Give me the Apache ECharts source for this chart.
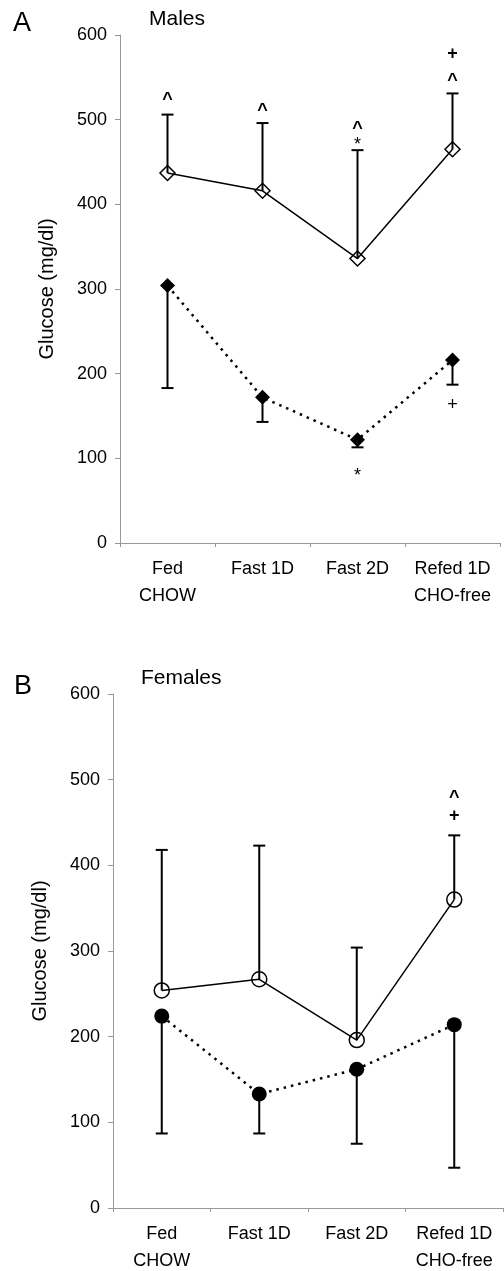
<!DOCTYPE html>
<html>
<head>
<meta charset="utf-8">
<script src="https://cdn.jsdelivr.net/npm/echarts@6/dist/echarts.min.js"></script>
<style>
  html, body { margin: 0; padding: 0; background: #fff; }
  #chart { width: 504px; height: 1271px; }
</style>
</head>
<body>
<div id="chart"></div>
<script>
const categories = ['Fed\nCHOW', 'Fast 1D', 'Fast 2D', 'Refed 1D\nCHO-free']
const yMin = 0
const yMax = 600
const yStep = 100

// Males (panel A)
const malesOpen = [437, 416, 336, 465]
const malesOpenHigh = [506, 496, 464, 531]
const malesClosed = [304, 172, 122, 216]
const malesClosedLow = [183, 143, 113, 187]
const malesMarksAbove = [[0, 528, '^'], [1, 515, '^'], [2, 494, '^'], [2, 475, '*'], [3, 578, '+'], [3, 550, '^']]
const malesMarksBelow = [[2, 84, '*'], [3, 163, '+']]

// Females (panel B)
const femalesOpen = [254, 267, 196, 360]
const femalesOpenHigh = [418, 423, 304, 435]
const femalesClosed = [224, 133, 162, 214]
const femalesClosedLow = [87, 87, 75, 47]
const femalesMarksAbove = [[3, 483, '^'], [3, 458, '+']]

const FONT = '"Liberation Sans", Arial, sans-serif'
const chart = echarts.init(document.getElementById('chart'), null, { renderer: 'canvas' })

// vertical error bar from the mean to the end value, with a cap
function errorBar(params, api) {
  const x = api.value(0)
  const p0 = api.coord([x, api.value(1)])
  const p1 = api.coord([x, api.value(2)])
  const half = 6
  const style = { stroke: '#000', lineWidth: 2 }
  return {
    type: 'group',
    children: [
      { type: 'line', shape: { x1: p0[0], y1: p0[1], x2: p1[0], y2: p1[1] }, style },
      { type: 'line', shape: { x1: p1[0] - half, y1: p1[1], x2: p1[0] + half, y2: p1[1] }, style }
    ]
  }
}

// significance marks (^, *, +)
function marks(list, bold) {
  return function (params, api) {
    const p = api.coord([api.value(0), api.value(1)])
    const t = list[params.dataIndex][2]
    const dy = t === '^' ? 4 : (t === '*' ? 4 : 0)
    return {
      type: 'text',
      x: p[0],
      y: p[1] + dy,
      style: {
        text: t,
        fontSize: 18,
        fontFamily: FONT,
        fontWeight: bold && t !== '*' ? 'bold' : 'normal',
        fill: '#000',
        align: 'center',
        verticalAlign: 'middle'
      }
    }
  }
}

const pair = (a, b) => a.map((v, i) => [i, v, b[i]])

function xAxis(gridIndex) {
  return {
    type: 'category',
    gridIndex,
    data: categories,
    boundaryGap: true,
    axisLine: { lineStyle: { color: '#999', width: 1 } },
    axisTick: { show: true, length: 4, lineStyle: { color: '#999' } },
    axisLabel: { interval: 0, margin: 13, fontSize: 18, lineHeight: 27, color: '#000', fontFamily: FONT }
  }
}

function yAxis(gridIndex) {
  return {
    type: 'value',
    gridIndex,
    min: yMin,
    max: yMax,
    interval: yStep,
    name: 'Glucose (mg/dl)',
    nameLocation: 'middle',
    nameGap: 63,
    nameTextStyle: { fontSize: 20, color: '#000', fontFamily: FONT },
    splitLine: { show: false },
    axisLine: { show: true, lineStyle: { color: '#999', width: 1 } },
    axisTick: { show: true, length: 5, lineStyle: { color: '#999' } },
    axisLabel: { margin: 13, fontSize: 18, color: '#000', fontFamily: FONT }
  }
}

function panelSeries(idx, open, openHigh, closed, closedLow, above, below, shape) {
  const list = [
    {
      type: 'custom', xAxisIndex: idx, yAxisIndex: idx, z: 1,
      renderItem: errorBar, data: pair(open, openHigh), silent: true
    },
    {
      type: 'custom', xAxisIndex: idx, yAxisIndex: idx, z: 1,
      renderItem: errorBar, data: pair(closed, closedLow), silent: true
    },
    {
      type: 'line', xAxisIndex: idx, yAxisIndex: idx, z: 3,
      data: open,
      symbol: shape, symbolSize: 15,
      lineStyle: { color: '#000', width: 1.5 },
      itemStyle: { color: 'rgba(0,0,0,0)', borderColor: '#000', borderWidth: 1.5 }
    },
    {
      type: 'line', xAxisIndex: idx, yAxisIndex: idx, z: 3,
      data: closed,
      symbol: shape, symbolSize: 15,
      lineStyle: { color: '#000', width: 2.5, type: [2.5, 5] },
      itemStyle: { color: '#000', borderWidth: 0 }
    },
    {
      type: 'custom', xAxisIndex: idx, yAxisIndex: idx, z: 4,
      renderItem: marks(above, true), data: above.map(d => [d[0], d[1]]), silent: true
    }
  ]
  if (below.length) {
    list.push({
      type: 'custom', xAxisIndex: idx, yAxisIndex: idx, z: 4,
      renderItem: marks(below, false), data: below.map(d => [d[0], d[1]]), silent: true
    })
  }
  return list
}

const option = {
  backgroundColor: '#fff',
  animation: false,
  title: [
    { text: 'A', left: 13, top: 10, padding: 0, textStyle: { fontSize: 27, fontWeight: 'normal', color: '#000', fontFamily: FONT } },
    { text: 'Males', left: 149, top: 9, padding: 0, textStyle: { fontSize: 21, fontWeight: 'normal', color: '#000', fontFamily: FONT } },
    { text: 'B', left: 14, top: 673, padding: 0, textStyle: { fontSize: 27, fontWeight: 'normal', color: '#000', fontFamily: FONT } },
    { text: 'Females', left: 141, top: 668, padding: 0, textStyle: { fontSize: 21, fontWeight: 'normal', color: '#000', fontFamily: FONT } }
  ],
  grid: [
    { left: 120, right: 4, top: 35, height: 508, outerBoundsMode: 'none' },
    { left: 113, right: 1, top: 694, height: 514, outerBoundsMode: 'none' }
  ],
  xAxis: [xAxis(0), xAxis(1)],
  yAxis: [yAxis(0), yAxis(1)],
  series: [
    ...panelSeries(0, malesOpen, malesOpenHigh, malesClosed, malesClosedLow, malesMarksAbove, malesMarksBelow, 'diamond'),
    ...panelSeries(1, femalesOpen, femalesOpenHigh, femalesClosed, femalesClosedLow, femalesMarksAbove, [], 'circle')
  ]
}

chart.setOption(option)
</script>
</body>
</html>
